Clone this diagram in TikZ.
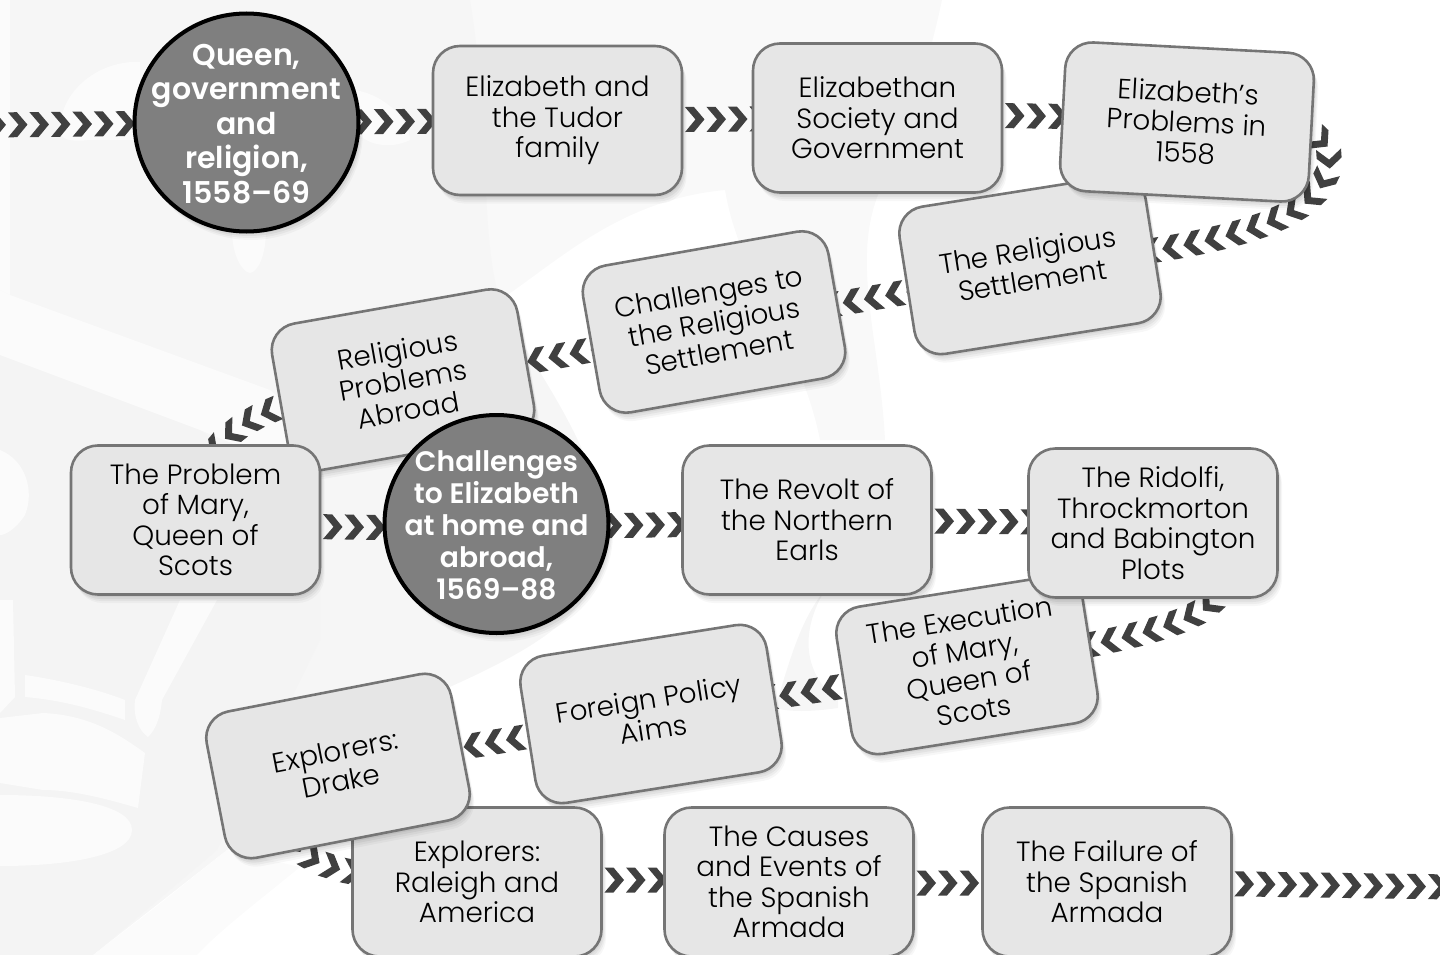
\documentclass[tikz,border=0pt]{standalone}
\usepackage{fontspec}
\setmainfont{Poppins Light}
\newfontfamily\boldface{Poppins SemiBold}
\usetikzlibrary{shadows,shapes.geometric,decorations.markings}
\definecolor{chevcol}{HTML}{404040}
\definecolor{boxfill}{HTML}{E6E6E6}
\definecolor{boxline}{HTML}{757575}
\definecolor{circfill}{HTML}{7F7F7F}
\definecolor{wmA}{HTML}{F6F6F6}
\definecolor{wmB}{HTML}{FBFBFB}
\definecolor{wmC}{HTML}{F4F4F4}
\definecolor{wmD}{HTML}{F9F9F9}
\pgfdeclarelayer{wmlayer}
\pgfdeclarelayer{chevlayer}
\pgfsetlayers{wmlayer,chevlayer,main}
\newcommand{\hubtext}[1]{\makebox[0pt]{\smash{\raisebox{-11pt}{\begin{tabular}{@{}c@{}}#1\end{tabular}}}}}
\tikzset{
  softshadow/.style={
    general shadow={fill=black,opacity=.05,shadow xshift=1.5pt,shadow yshift=-2.5pt},
    general shadow={fill=black,opacity=.05,shadow xshift=2.5pt,shadow yshift=-4.5pt},
    general shadow={fill=black,opacity=.04,shadow xshift=3.5pt,shadow yshift=-6.5pt},
    general shadow={fill=black,opacity=.03,shadow xshift=4.5pt,shadow yshift=-8.5pt}},
  box/.style={rectangle,rounded corners=27pt,minimum width=249pt,minimum height=149pt,
    inner sep=0pt,outer sep=0pt,draw=boxline,line width=2.6pt,fill=boxfill,softshadow,
    align=center,font=\fontsize{27.8}{30.5}\selectfont,text=black},
  hub/.style={ellipse,minimum width=224pt,minimum height=218pt,inner sep=0pt,outer sep=0pt,draw=black,line width=4pt,
    fill=circfill,softshadow,text=white},
  chev/.style={postaction={decorate,decoration={markings,
    mark=between positions #1 and 1 step 21.5pt with {
      \fill[chevcol] (-9.5,-12.5)--(-0.5,-12.5)--(10,0)--(-0.5,12.5)--(-9.5,12.5)--(1,0)--cycle;}}}},
}
\begin{document}
\begin{tikzpicture}[x=1pt,y=-1pt]
\useasboundingbox (0,0) rectangle (1440,955);
\begin{pgfonlayer}{wmlayer}
  % faint emblem behind the diagram
  \fill[wmD] (400,0) -- (942,0) .. controls (925,80) and (900,150) .. (880,190) .. controls (850,260) and (880,340) .. (885,440) -- (820,440) .. controls (800,340) and (740,280) .. (725,190) .. controls (620,200) and (560,260) .. (500,300) -- (400,300) -- cycle;
  \fill[wmA] (0,0) -- (470,0) .. controls (490,120) and (480,240) .. (500,300) .. controls (520,350) and (580,420) .. (600,500) .. controls (620,600) and (560,640) .. (420,700) .. controls (340,760) and (300,820) .. (227,850) -- (93,955) -- (0,955) -- cycle;
  \fill[wmB] (0,0) -- (10,0) -- (10,295) -- (0,290) -- cycle;
  \fill[wmC] (0,355) -- (200,430) -- (320,520) -- (320,640) -- (217,850) -- (93,955) -- (0,955) -- cycle;
  \fill[wmB] (0,290) -- (10,295) -- (270,390) -- (330,440) -- (320,480) -- (200,430) -- (0,355) -- cycle;
  \fill[wmB] (93,955) .. controls (140,920) and (190,880) .. (227,850) -- (300,867) .. controls (260,900) and (220,930) .. (197,955) -- cycle;
  \fill[wmB] (180,600) -- (217,600) -- (162,700) .. controls (160,720) and (155,730) .. (148,737) .. controls (138,730) and (133,715) .. (135,700) -- cycle;
  \fill[wmB] (25,675) .. controls (60,680) and (100,690) .. (125,700) -- (125,720) .. controls (90,708) and (60,700) .. (25,697) -- cycle;
  \fill[wmB] (0,718) -- (43,713) .. controls (90,715) and (120,735) .. (145,753) -- (138,808) .. controls (110,800) and (75,790) .. (43,790) -- (0,783) -- cycle;
  \fill[wmB] (0,795) .. controls (70,795) and (132,805) .. (132,830) .. controls (132,855) and (70,866) .. (0,866) -- cycle;
  \fill[wmB] (0,600) -- (13,600) -- (15,697) -- (0,713) -- cycle;
  \fill[wmB] (0,450) .. controls (25,460) and (35,490) .. (25,515) .. controls (15,530) and (5,535) .. (0,535) -- cycle;
  \fill[wmB] (60,130) .. controls (60,90) and (100,60) .. (140,62) -- (140,140) -- (90,140) .. controls (70,142) and (60,140) .. (60,130) -- cycle;
  \fill[wmB] (355,90) .. controls (385,95) and (410,120) .. (410,140) .. controls (390,150) and (365,145) .. (355,130) -- cycle;
  \fill[wmB] (232,230) .. controls (232,255) and (242,272) .. (250,273) .. controls (258,272) and (266,255) .. (266,230) -- cycle;
  \fill[wmA] (825,590) .. controls (795,640) and (810,680) .. (838,700) -- (838,708) .. controls (810,712) and (790,712) .. (775,708) .. controls (790,660) and (800,620) .. (825,590) -- cycle;
\end{pgfonlayer}
\coordinate (inL) at (-12,125);
\coordinate (outR) at (1452,887);
\node[hub,font=\boldface\fontsize{30}{34.5}\selectfont] (q) at (246.5,122.5) {\hubtext{Queen,\\government\\and\\religion,\\1558–69}};
\node[box] (tudor) at (557.5,120.5) {Elizabeth and\\the Tudor\\family};
\node[box] (soc) at (877.5,118) {Elizabethan\\Society and\\Government};
\node[box,rotate=9] (rs) at (1030,265) {The Religious\\Settlement};
\node[box,rotate=-3] (pr) at (1187,122) {Elizabeth's\\Problems in\\1558};
\node[box,rotate=10] (crs) at (714,322) {Challenges to\\the Religious\\Settlement};
\node[box,rotate=10] (rp) at (403,380) {Religious\\Problems\\Abroad};
\node[box] (mary) at (195.5,520) {The Problem\\of Mary,\\Queen of\\Scots};
\node[hub,font=\boldface\fontsize{28.2}{32}\selectfont] (ch) at (496.5,524) {\hubtext{Challenges\\to Elizabeth\\at home and\\abroad,\\1569–88}};
\node[box] (rev) at (807,520) {The Revolt of\\the Northern\\Earls};
\node[box,rotate=9] (ex) at (967,665) {The Execution\\of Mary,\\Queen of\\Scots};
\node[box] (rid) at (1153,523) {The Ridolfi,\\Throckmorton\\and Babington\\Plots};
\node[box,rotate=9] (fp) at (651,714) {Foreign Policy\\Aims};
\node[box] (ral) at (477,882) {Explorers:\\Raleigh and\\America};
\node[box,rotate=11] (dr) at (338,766) {Explorers:\\Drake};
\node[box] (cau) at (789,882) {The Causes\\and Events of\\the Spanish\\Armada};
\node[box] (fail) at (1107,882) {The Failure of\\the Spanish\\Armada};
\begin{pgfonlayer}{chevlayer}
  \path[chev=8pt] (inL) -- (q.center);
  \path[chev=8pt] (q.center) -- (tudor.center);
  \path[chev=8pt] (tudor.center) -- (soc.center);
  \path[chev=8pt] ([yshift=4pt]soc.center) -- ([yshift=4pt]pr.center);
  \path[chev=8pt] (pr.center) .. controls (1304,115) and (1332,135) .. (1329,165) .. controls (1320,215) and (1250,245) .. (rs.center);
  \path[chev=8pt] ([yshift=-6pt]rs.center) -- ([yshift=-3pt]crs.center);
  \path[chev=8pt] ([yshift=-5pt]crs.center) -- ([yshift=-5pt]rp.center);
  \path[chev=8pt] (rp.center) .. controls (300,395) and (190,415) .. (mary.center);
  \path[chev=8pt] ([yshift=-5pt]mary.center) -- ([yshift=-5pt]ch.center);
  \path[chev=8pt] ([yshift=-3pt]ch.center) -- ([yshift=-3pt]rev.center);
  \path[chev=8pt] (rev.center) -- (rid.center);
  \path[chev=8pt] (rid.center) .. controls (1290,600) and (1210,630) .. (ex.center);
  \path[chev=8pt] ([yshift=-2pt]ex.center) -- ([yshift=-2pt]fp.center);
  \path[chev=8pt] ([yshift=-2pt]fp.center) -- ([yshift=-2pt]dr.center);
  \path[chev=8pt] (dr.center) .. controls (230,860) and (330,880) .. (ral.center);
  \path[chev=8pt] ([yshift=2pt]ral.center) -- ([yshift=2pt]cau.center);
  \path[chev=8pt] ([yshift=-1pt]cau.center) -- ([yshift=-1pt]fail.center);
  \path[chev=8pt] (fail.center) -- (outR);
\end{pgfonlayer}
\end{tikzpicture}
\end{document}
